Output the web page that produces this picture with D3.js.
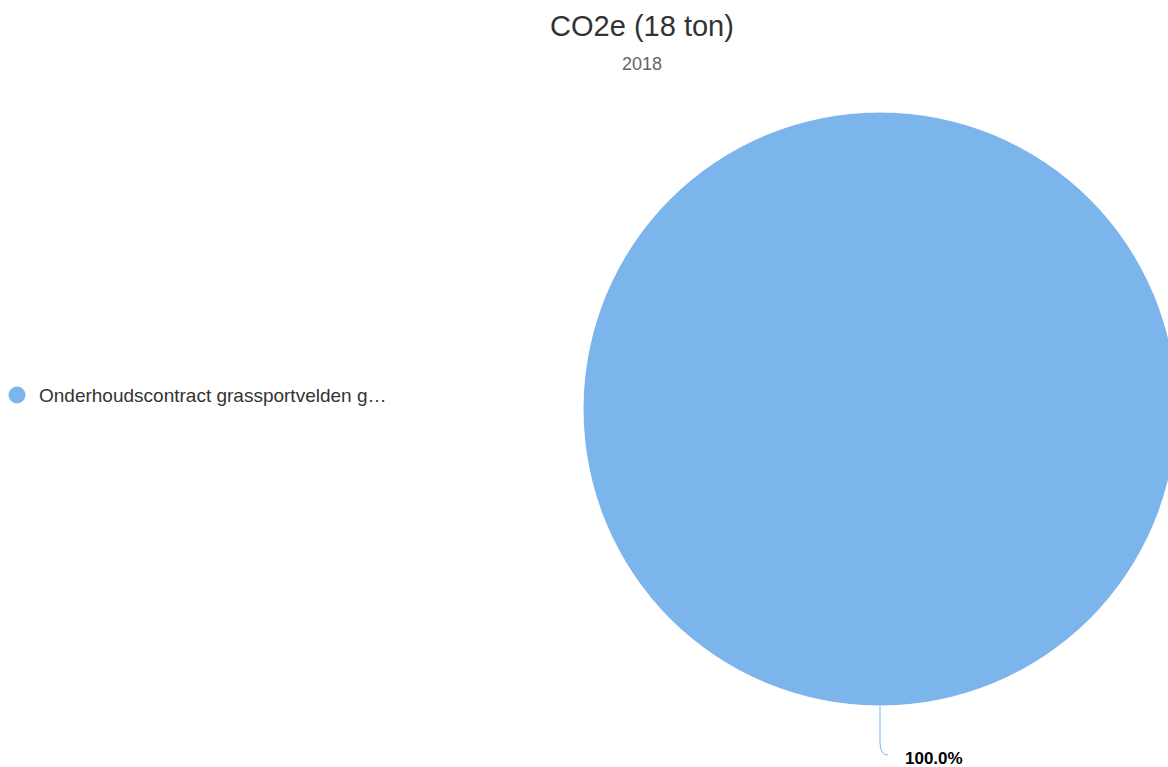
<!DOCTYPE html>
<html>
<head>
<meta charset="utf-8">
<script src="https://cdn.jsdelivr.net/npm/d3@7"></script>
<style>
  body { margin: 0; background: #fff; }
  svg { font-family: "Liberation Sans", Arial, sans-serif; display: block; }
</style>
</head>
<body>
<svg id="chart" width="1168" height="767"></svg>
<script>
// chart data
const categories = ["Onderhoudscontract grassportvelden g…"];
const values = [18];
const colors = ["#7cb5ec"];
const titleText = "CO2e (18 ton)";
const subtitleText = "2018";

const svg = d3.select("#chart");
const cx = 880, cy = 409, radius = 297;

svg.append("text")
    .attr("x", 642).attr("y", 36)
    .attr("text-anchor", "middle")
    .attr("fill", "#333")
    .style("font-size", "29px")
    .text(titleText);

svg.append("text")
    .attr("x", 642).attr("y", 70)
    .attr("text-anchor", "middle")
    .attr("fill", "#666")
    .style("font-size", "18px")
    .text(subtitleText);

const total = d3.sum(values);
const pie = d3.pie().sort(null).startAngle(0).endAngle(2 * Math.PI);
const arc = d3.arc().innerRadius(0).outerRadius(radius);
const arcs = pie(values);

const g = svg.append("g").attr("transform", `translate(${cx},${cy})`);
g.selectAll("path.slice")
    .data(arcs)
    .join("path")
    .attr("class", "slice")
    .attr("d", arc)
    .attr("fill", (d, i) => colors[i])
    .attr("stroke", "#fff")
    .attr("stroke-width", 1);

// data label with connector (slice midpoint is at the bottom)
arcs.forEach((d, i) => {
    const mid = (d.startAngle + d.endAngle) / 2;
    const px = Math.sin(mid) * radius, py = -Math.cos(mid) * radius;
    const lx = px + 8, ly = py + 49;
    g.append("path")
        .attr("d", `M${px},${py} L${px},${py + 36} Q${px},${ly} ${lx},${ly}`)
        .attr("fill", "none")
        .attr("stroke", colors[i])
        .attr("stroke-width", 1);
    g.append("text")
        .attr("x", lx + 17).attr("y", ly + 9)
        .attr("fill", "#000")
        .style("font-size", "17px")
        .style("font-weight", "bold")
        .text((values[i] / total * 100).toFixed(1) + "%");
});

// legend
const legend = svg.append("g").attr("transform", "translate(17,395)");
categories.forEach((c, i) => {
    legend.append("circle").attr("cx", 0).attr("cy", i * 24).attr("r", 8.5).attr("fill", colors[i]);
    legend.append("text")
        .attr("x", 22).attr("y", i * 24 + 7)
        .attr("fill", "#333")
        .style("font-size", "19px")
        .text(c);
});
</script>
</body>
</html>
